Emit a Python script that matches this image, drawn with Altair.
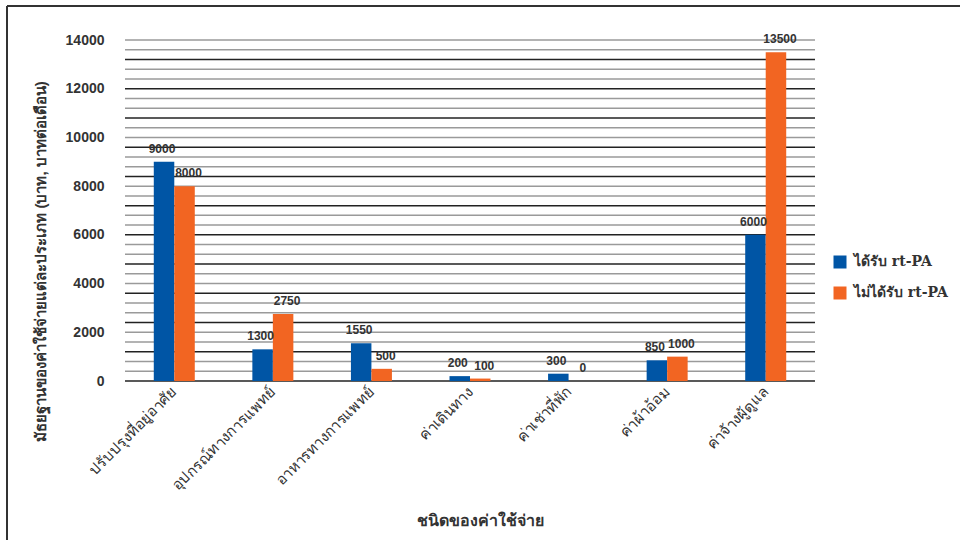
import altair as alt
import pandas as pd

categories = ["ปรับปรุงที่อยู่อาศัย", "อุปกรณ์ทางการแพทย์", "อาหารทางการแพทย์",
              "ค่าเดินทาง", "ค่าเช่าที่พัก", "ค่าผ้าอ้อม", "ค่าจ้างผู้ดูแล"]
series = ["ได้รับ rt-PA", "ไม่ได้รับ rt-PA"]
received = [9000, 1300, 1550, 200, 300, 850, 6000]
not_received = [8000, 2750, 500, 100, 0, 1000, 13500]
colors = ["#0055A5", "#F26522"]
y_ticks = [0, 2000, 4000, 6000, 8000, 10000, 12000, 14000]
grid_vals = list(range(0, 14001, 400))

rows = []
for i, c in enumerate(categories):
    rows.append({"cat": c, "group": series[0], "v": received[i]})
    rows.append({"cat": c, "group": series[1], "v": not_received[i]})
df = pd.DataFrame(rows)
grid_df = pd.DataFrame({"g": grid_vals,
                        "dark": [1 if v % 1200 == 0 else 0 for v in grid_vals]})

y_scale = alt.Scale(domain=[0, 14000], nice=False)
y_axis = alt.Axis(title="มัธยฐานของค่าใช้จ่ายแต่ละประเภท (บาท, บาทต่อเดือน)",
                  values=y_ticks, format="d", labelOverlap=False, grid=False,
                  labelFontSize=14, labelFontWeight="bold", labelColor="#333",
                  labelFont="Liberation Sans", labelPadding=21,
                  ticks=False, domain=False,
                  titleFontSize=15, titleFontWeight="bold", titleColor="#333",
                  titleAngle=-90, titleX=-85, titleY=221,
                  titleAlign="center", titleBaseline="middle")

x_enc = alt.X("cat:N", sort=categories,
              scale=alt.Scale(paddingInner=0.584, paddingOuter=0.292),
              axis=alt.Axis(title="ชนิดของค่าใช้จ่าย", labelAngle=-45, labelAlign="right",
                            labelBaseline="middle", labelFontSize=15, labelColor="#333",
                            labelPadding=8, ticks=False, domain=False, grid=False,
                            labelLimit=300,
                            titleFontSize=16, titleFontWeight="bold", titleColor="#333",
                            titleX=355, titleY=139, titleBaseline="middle", titleAlign="center"))
y_enc = alt.Y("v:Q", scale=y_scale, axis=y_axis)
xoff = alt.XOffset("group:N", sort=series, scale=alt.Scale(domain=series, paddingInner=0, paddingOuter=0))

color_enc = alt.Color("group:N", sort=series,
                      scale=alt.Scale(domain=series, range=colors),
                      legend=alt.Legend(title=None, orient="none", legendX=708, legendY=215,
                                        symbolType="square", symbolSize=169,
                                        symbolStrokeWidth=0, labelFontSize=14,
                                        labelFont="DejaVu Serif", labelFontWeight="bold",
                                        labelColor="#333", rowPadding=17, labelOffset=7))

grid = alt.Chart(grid_df).mark_rule(strokeWidth=1.5).encode(
    y=alt.Y("g:Q", scale=y_scale, axis=y_axis),
    color=alt.Color("dark:N", scale=alt.Scale(domain=[0, 1], range=["#9a9a9a", "#222222"]),
                    legend=None))

base = alt.Chart(df)
bars = base.mark_bar(size=20.5).encode(
    x=x_enc, y=y_enc, color=color_enc, xOffset=xoff)


def text_layer(name, dx):
    return base.transform_filter(alt.datum.group == name).mark_text(
        baseline="bottom", dy=-6, dx=dx, fontSize=12, fontWeight="bold",
        font="Liberation Sans", color="#333").encode(
        x=alt.X("cat:N", sort=categories), y=alt.Y("v:Q", scale=y_scale, axis=y_axis),
        text="v:Q", xOffset=xoff)


labels_a = text_layer(series[0], -2)
labels_b = text_layer(series[1], 4)

border = pd.DataFrame({"k": [0]})
top_line = alt.Chart(border).mark_rule(color="#333", strokeWidth=2).encode(
    x=alt.value(-118), x2=alt.value(840), y=alt.value(-34))
left_line = alt.Chart(border).mark_rule(color="#333", strokeWidth=2).encode(
    x=alt.value(-118), y=alt.value(-34), y2=alt.value(505))

chart = alt.layer(grid, bars, labels_a, labels_b, top_line, left_line).resolve_scale(
    color="independent"
).properties(
    width=690, height=341,
    autosize=alt.AutoSizeParams(type="none"),
    padding={"left": 125, "top": 40, "right": 145, "bottom": 159},
    background="white"
).configure_view(stroke=None).configure_axis(labelFont="Liberation Sans", titleFont="Liberation Sans")

chart.save("out.html", embed_options={"renderer": "svg", "actions": False})
